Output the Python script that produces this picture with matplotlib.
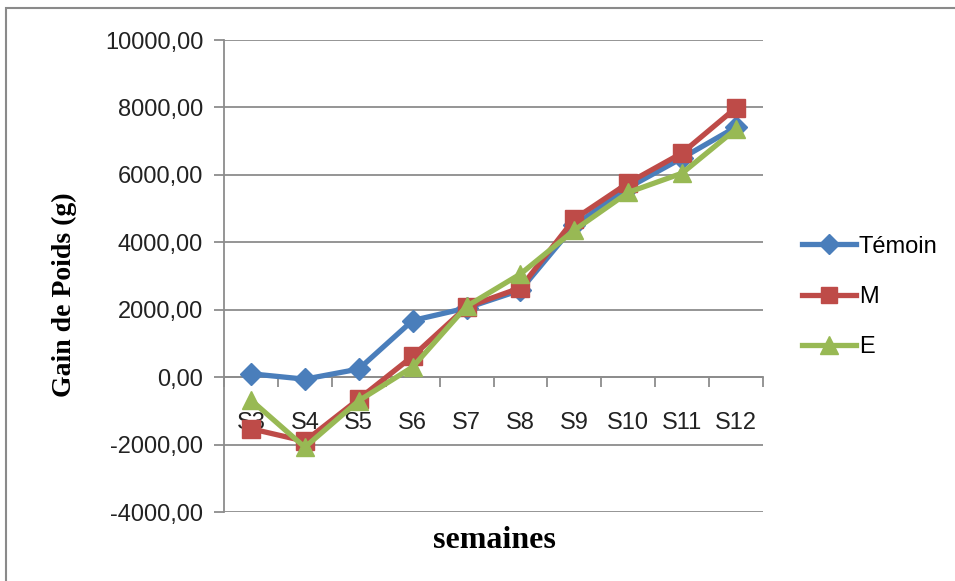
import matplotlib
matplotlib.use('Agg')
import matplotlib.pyplot as plt
from matplotlib.patches import Rectangle
from matplotlib.ticker import FuncFormatter

# gain de poids par semaine (g)
semaines = ['S3', 'S4', 'S5', 'S6', 'S7', 'S8', 'S9', 'S10', 'S11', 'S12']
temoin = [100, -60, 240, 1680, 2050, 2580, 4500, 5620, 6500, 7420]
lot_m = [-1530, -1900, -650, 620, 2080, 2650, 4690, 5760, 6650, 7990]
lot_e = [-680, -2080, -700, 300, 2100, 3060, 4360, 5480, 6050, 7360]

c_temoin = '#4a7ebb'
c_m = '#be4b48'
c_e = '#98b954'
grid_col = '#8c8c8c'

fig = plt.figure(figsize=(9.55, 5.81), dpi=100)
fig.patches.append(Rectangle((6 / 955, -0.1), 1.2, (581 - 8) / 581 + 0.1,
                             transform=fig.transFigure, fill=False,
                             edgecolor='#8a8a8a', linewidth=1.5))

ax = fig.add_axes([224 / 955, 1 - 512 / 581, (763 - 224) / 955, (512 - 40) / 581])
x = list(range(len(semaines)))

ax.plot(x, temoin, color=c_temoin, lw=3.8, marker='D', ms=11, label='Témoin', zorder=3)
ax.plot(x, lot_m, color=c_m, lw=3.8, marker='s', ms=12.5, label='M', zorder=4)
ax.plot(x, lot_e, color=c_e, lw=3.8, marker='^', ms=13.5, label='E', zorder=5)

ax.set_xlim(-0.5, len(semaines) - 0.5)
ax.set_ylim(-4000, 10000)
ax.set_yticks(range(-4000, 10001, 2000))
ax.yaxis.set_major_formatter(FuncFormatter(lambda v, p: f'{v:.2f}'.replace('.', ',')))
ax.grid(axis='y', color=grid_col, lw=1.3)
ax.set_axisbelow(True)

for s in ('top', 'right'):
    ax.spines[s].set_visible(False)
ax.spines['left'].set_color(grid_col)
ax.spines['left'].set_linewidth(1.3)
ax.spines['bottom'].set_position(('data', 0))
ax.spines['bottom'].set_color(grid_col)
ax.spines['bottom'].set_linewidth(1.3)

# graduations entre les semaines, libellés au centre
ax.set_xticks([i - 0.5 for i in range(len(semaines) + 1)])
ax.set_xticklabels([])
ax.set_xticks(x, minor=True)
ax.set_xticklabels(semaines, minor=True)
ax.tick_params(axis='x', which='major', direction='out', length=7, color=grid_col, width=1.3)
ax.tick_params(axis='x', which='minor', length=0, pad=25, labelsize=17, labelcolor='#222222')
ax.tick_params(axis='y', direction='out', length=7, color=grid_col, width=1.3,
               labelsize=17, labelcolor='#222222', pad=8)
for lab in ax.get_xticklabels(minor=True) + ax.get_yticklabels():
    lab.set_fontfamily('Liberation Sans')

fig.text(64 / 955, 1 - 295 / 581, 'Gain de Poids (g)', rotation=90, ha='center', va='center',
         fontsize=20, fontweight='bold', family='Liberation Serif')
fig.text(494 / 955, 1 - 540 / 581, 'semaines', ha='center', va='center',
         fontsize=23, fontweight='bold', family='Liberation Serif')

fig.legend(loc='center left', bbox_to_anchor=(802 / 955, 1 - 297 / 581), frameon=False,
           prop={'family': 'Liberation Sans', 'size': 17}, handlelength=2.3,
           handletextpad=0.1, labelspacing=1.2, borderpad=0, borderaxespad=0,
           markerscale=0.95)

fig.savefig('out.png', dpi=100)
